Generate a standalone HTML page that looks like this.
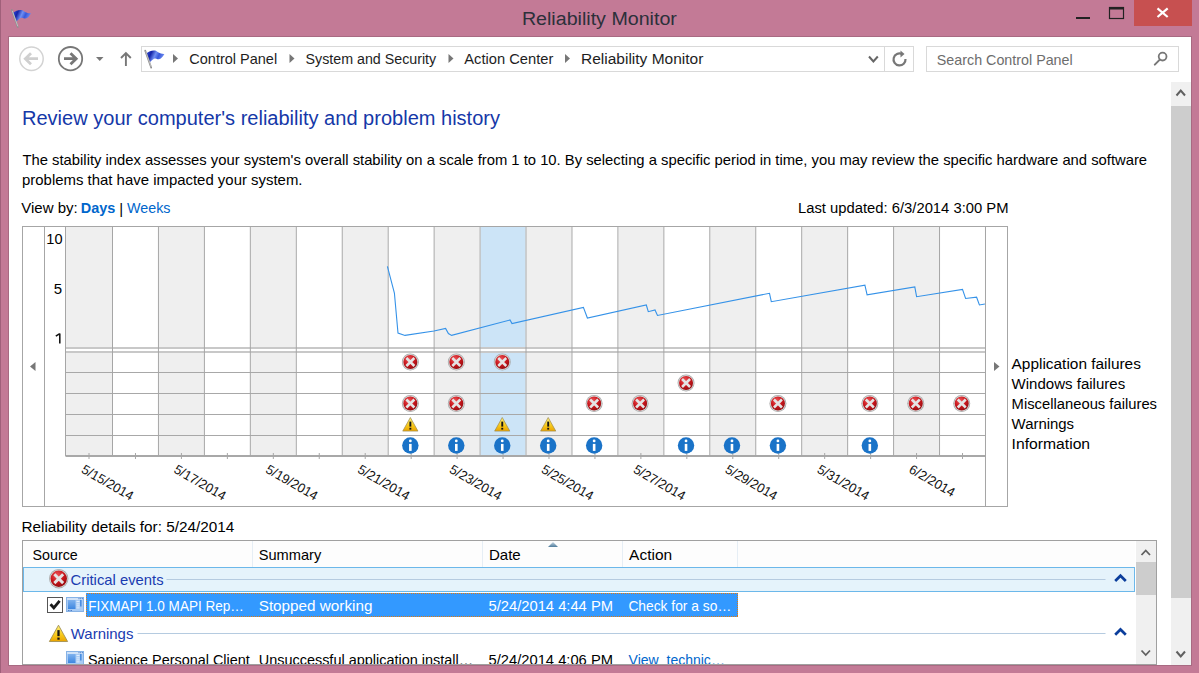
<!DOCTYPE html>
<html><head><meta charset="utf-8"><style>
html,body{margin:0;padding:0;width:1199px;height:673px;overflow:hidden;background:#C37A96;}
svg text{font-family:"Liberation Sans", sans-serif;}
</style></head><body>
<svg width="1199" height="673" viewBox="0 0 1199 673" style="position:absolute;left:0;top:0" font-family='"Liberation Sans", sans-serif'><defs>
<radialGradient id="gerr" cx="0.4" cy="0.3" r="0.75">
<stop offset="0" stop-color="#f0575a"/><stop offset="0.55" stop-color="#c8161c"/><stop offset="1" stop-color="#8e0d10"/>
</radialGradient>
<linearGradient id="gwarn" x1="0" y1="0" x2="0" y2="1">
<stop offset="0" stop-color="#fff27a"/><stop offset="0.6" stop-color="#f7c81a"/><stop offset="1" stop-color="#eaa300"/>
</linearGradient>
<linearGradient id="gflag" x1="0" y1="0" x2="1" y2="0.3">
<stop offset="0" stop-color="#3a55e0"/><stop offset="0.3" stop-color="#1424a8"/><stop offset="0.55" stop-color="#6f8ff2"/><stop offset="0.75" stop-color="#3858da"/><stop offset="1" stop-color="#6a88ee"/>
</linearGradient>
<linearGradient id="gapp" x1="0" y1="0" x2="0" y2="1">
<stop offset="0" stop-color="#7fb2ee"/><stop offset="1" stop-color="#3d86e0"/>
</linearGradient>
<linearGradient id="gsort" x1="0" y1="0" x2="0" y2="1">
<stop offset="0" stop-color="#c5d6e3"/><stop offset="1" stop-color="#4f7c9c"/>
</linearGradient>
</defs><rect x="0" y="0" width="1199" height="673" fill="#C37A96" /><rect x="0" y="0" width="1" height="673" fill="#a0607a" /><rect x="8" y="36" width="1184" height="630" fill="#a86a82" /><rect x="9" y="37" width="1182" height="628" fill="#ffffff" /><g transform="translate(10.6,8) scale(1.0)"><path d="M2.3,4.8 C5,3 8,1.5 11,2 C13.5,2.8 15.5,5.5 20.4,5.3 C18.8,8 17,10.5 14.9,10.6 C13,10.5 11.5,9.8 10.5,9.8 C9,10.5 7,12.5 5.4,13.8 Z" fill="url(#gflag)"/><path d="M1.2,2 L7.2,19" stroke="#8f8f8f" stroke-width="1.7" stroke-linecap="round"/><path d="M1.7,2.8 L7.2,18.3" stroke="#dedede" stroke-width="0.6"/></g><text x="521.9" y="25" font-size="17.6" fill="#2c303a" font-weight="400" text-anchor="start" textLength="155" lengthAdjust="spacingAndGlyphs" >Reliability Monitor</text><rect x="1076" y="17" width="14" height="2" fill="#222" /><rect x="1109.5" y="7.5" width="14" height="11" fill="none" stroke="#222" stroke-width="1.2" /><rect x="1109" y="7" width="15" height="2.5" fill="#222" /><rect x="1134" y="0" width="58" height="26" fill="#c75050" /><path d="M1157.5,8.3 L1167.7,17 M1167.7,8.3 L1157.5,17" stroke="#fff" stroke-width="2.2"/><circle cx="31.5" cy="58.7" r="11.7" fill="none" stroke="#d3d3d3" stroke-width="1.5"/><path d="M25,58.7 L38,58.7 M31,53.2 L25.3,58.7 L31,64.2" fill="none" stroke="#cfcfcf" stroke-width="2.8"/><circle cx="70.5" cy="58.7" r="11.7" fill="none" stroke="#777" stroke-width="1.8"/><path d="M64,58.7 L77,58.7 M70.5,53.2 L76.2,58.7 L70.5,64.2" fill="none" stroke="#777" stroke-width="2.8"/><path d="M96,57 L103.5,57 L99.75,61 Z" fill="#777"/><path d="M125.9,53.5 L125.9,66 M121,58 L125.9,53 L130.8,58" fill="none" stroke="#777" stroke-width="1.9"/><rect x="141.5" y="46.5" width="772" height="25" fill="#fff" stroke="#d9d9d9" stroke-width="1" /><line x1="884.5" y1="47" x2="884.5" y2="71" stroke="#d9d9d9" stroke-width="1"/><g transform="translate(144,48.6) scale(1.0)"><path d="M2.3,4.8 C5,3 8,1.5 11,2 C13.5,2.8 15.5,5.5 20.4,5.3 C18.8,8 17,10.5 14.9,10.6 C13,10.5 11.5,9.8 10.5,9.8 C9,10.5 7,12.5 5.4,13.8 Z" fill="url(#gflag)"/><path d="M1.2,2 L7.2,19" stroke="#8f8f8f" stroke-width="1.7" stroke-linecap="round"/><path d="M1.7,2.8 L7.2,18.3" stroke="#dedede" stroke-width="0.6"/></g><path d="M173,54 L178,58.5 L173,63 Z" fill="#777"/><path d="M289.5,54 L294.5,58.5 L289.5,63 Z" fill="#777"/><path d="M448.5,54 L453.5,58.5 L448.5,63 Z" fill="#777"/><path d="M565,54 L570,58.5 L565,63 Z" fill="#777"/><text x="189.3" y="64" font-size="14.5" fill="#1e1e1e" font-weight="400" text-anchor="start" >Control Panel</text><text x="305.5" y="64" font-size="14.25" fill="#1e1e1e" font-weight="400" text-anchor="start" >System and Security</text><text x="464.3" y="64" font-size="14.7" fill="#1e1e1e" font-weight="400" text-anchor="start" >Action Center</text><text x="581" y="64" font-size="15.5" fill="#1e1e1e" font-weight="400" text-anchor="start" >Reliability Monitor</text><path d="M869,56.5 L873.4,61.5 L877.8,56.5" fill="none" stroke="#666" stroke-width="2"/><path d="M905.5,59 A6,6 0 1 1 902,54" fill="none" stroke="#777" stroke-width="2.2"/><path d="M900.5,50.5 L904.5,54 L900.5,57.5 Z" fill="#777"/><rect x="926.5" y="46.5" width="252" height="25" fill="#fff" stroke="#d9d9d9" stroke-width="1" /><text x="936.8" y="64.5" font-size="14.3" fill="#6d6d6d" font-weight="400" text-anchor="start" >Search Control Panel</text><circle cx="1162.6" cy="56.6" r="3.9" fill="none" stroke="#777" stroke-width="1.8"/><path d="M1159.8,59.6 L1154.8,64.6" stroke="#777" stroke-width="2" stroke-linecap="round"/><rect x="1171" y="82" width="20" height="583" fill="#f0f0f0" /><rect x="1171" y="106" width="20" height="492" fill="#cdcdcd" /><path d="M1176.5,95.5 L1180.75,90.5 L1185,95.5" fill="none" stroke="#606060" stroke-width="2"/><path d="M1176.5,651.5 L1180.75,656.5 L1185,651.5" fill="none" stroke="#606060" stroke-width="2"/><text x="22" y="125" font-size="20" fill="#1538a8" font-weight="400" text-anchor="start" textLength="478" lengthAdjust="spacingAndGlyphs" >Review your computer's reliability and problem history</text><text x="22.5" y="164.5" font-size="14.8" fill="#000" font-weight="400" text-anchor="start" >The stability index assesses your system's overall stability on a scale from 1 to 10. By selecting a specific period in time, you may review the specific hardware and software</text><text x="22" y="184.5" font-size="14.8" fill="#000" font-weight="400" text-anchor="start" textLength="280.5" lengthAdjust="spacingAndGlyphs" >problems that have impacted your system.</text><text x="21.2" y="213" font-size="15" fill="#000" font-weight="400" text-anchor="start" textLength="56.5" lengthAdjust="spacingAndGlyphs" >View by:</text><text x="80.8" y="213" font-size="15" fill="#0066cc" font-weight="700" text-anchor="start" textLength="34.6" lengthAdjust="spacingAndGlyphs" >Days</text><text x="119.3" y="214" font-size="15" fill="#000" font-weight="400" text-anchor="start" >|</text><text x="127" y="213" font-size="15" fill="#0066cc" font-weight="400" text-anchor="start" textLength="43.5" lengthAdjust="spacingAndGlyphs" >Weeks</text><text x="798" y="213" font-size="14.7" fill="#000" font-weight="400" text-anchor="start" textLength="210.5" lengthAdjust="spacingAndGlyphs" >Last updated: 6/3/2014 3:00 PM</text><rect x="22.5" y="226.5" width="985" height="280" fill="#fff" /><rect x="66.0" y="227" width="46.0" height="229" fill="#efefef" /><rect x="113.0" y="227" width="44.947" height="229" fill="#ffffff" /><rect x="158.947" y="227" width="44.947" height="229" fill="#efefef" /><rect x="204.894" y="227" width="44.947" height="229" fill="#ffffff" /><rect x="250.841" y="227" width="44.947" height="229" fill="#efefef" /><rect x="296.788" y="227" width="44.947" height="229" fill="#ffffff" /><rect x="342.735" y="227" width="44.947" height="229" fill="#efefef" /><rect x="388.682" y="227" width="44.947" height="229" fill="#ffffff" /><rect x="434.629" y="227" width="44.947" height="229" fill="#efefef" /><rect x="480.576" y="227" width="44.947" height="229" fill="#cce4f7" /><rect x="526.523" y="227" width="44.947" height="229" fill="#efefef" /><rect x="572.47" y="227" width="44.947" height="229" fill="#ffffff" /><rect x="618.417" y="227" width="44.947" height="229" fill="#efefef" /><rect x="664.364" y="227" width="44.947" height="229" fill="#ffffff" /><rect x="710.311" y="227" width="44.947" height="229" fill="#efefef" /><rect x="756.258" y="227" width="44.947" height="229" fill="#ffffff" /><rect x="802.205" y="227" width="44.947" height="229" fill="#efefef" /><rect x="848.152" y="227" width="44.947" height="229" fill="#ffffff" /><rect x="894.099" y="227" width="44.947" height="229" fill="#efefef" /><rect x="940.046" y="227" width="44.947" height="229" fill="#ffffff" /><line x1="65.5" y1="348" x2="985.5" y2="348" stroke="#c8c8c8" stroke-width="2"/><rect x="66" y="349" width="919" height="2" fill="#ffffff" /><line x1="65.5" y1="352" x2="985.5" y2="352" stroke="#c8c8c8" stroke-width="2"/><line x1="65.5" y1="372.5" x2="985.5" y2="372.5" stroke="#a8a8a8" stroke-width="1"/><line x1="65.5" y1="393.5" x2="985.5" y2="393.5" stroke="#a8a8a8" stroke-width="1"/><line x1="65.5" y1="414.5" x2="985.5" y2="414.5" stroke="#a8a8a8" stroke-width="1"/><line x1="65.5" y1="435.5" x2="985.5" y2="435.5" stroke="#a8a8a8" stroke-width="1"/><line x1="65.5" y1="456" x2="985.5" y2="456" stroke="#a8a8a8" stroke-width="2"/><line x1="65.5" y1="226" x2="65.5" y2="456" stroke="#a6a6a6" stroke-width="1"/><line x1="112.5" y1="226" x2="112.5" y2="456" stroke="#a6a6a6" stroke-width="1"/><line x1="158.447" y1="226" x2="158.447" y2="456" stroke="#a6a6a6" stroke-width="1"/><line x1="204.394" y1="226" x2="204.394" y2="456" stroke="#a6a6a6" stroke-width="1"/><line x1="250.341" y1="226" x2="250.341" y2="456" stroke="#a6a6a6" stroke-width="1"/><line x1="296.288" y1="226" x2="296.288" y2="456" stroke="#a6a6a6" stroke-width="1"/><line x1="342.235" y1="226" x2="342.235" y2="456" stroke="#a6a6a6" stroke-width="1"/><line x1="388.182" y1="226" x2="388.182" y2="456" stroke="#a6a6a6" stroke-width="1"/><line x1="434.129" y1="226" x2="434.129" y2="456" stroke="#a6a6a6" stroke-width="1"/><line x1="480.076" y1="226" x2="480.076" y2="456" stroke="#a6a6a6" stroke-width="1"/><line x1="526.023" y1="226" x2="526.023" y2="456" stroke="#a6a6a6" stroke-width="1"/><line x1="571.97" y1="226" x2="571.97" y2="456" stroke="#a6a6a6" stroke-width="1"/><line x1="617.917" y1="226" x2="617.917" y2="456" stroke="#a6a6a6" stroke-width="1"/><line x1="663.864" y1="226" x2="663.864" y2="456" stroke="#a6a6a6" stroke-width="1"/><line x1="709.811" y1="226" x2="709.811" y2="456" stroke="#a6a6a6" stroke-width="1"/><line x1="755.758" y1="226" x2="755.758" y2="456" stroke="#a6a6a6" stroke-width="1"/><line x1="801.705" y1="226" x2="801.705" y2="456" stroke="#a6a6a6" stroke-width="1"/><line x1="847.652" y1="226" x2="847.652" y2="456" stroke="#a6a6a6" stroke-width="1"/><line x1="893.599" y1="226" x2="893.599" y2="456" stroke="#a6a6a6" stroke-width="1"/><line x1="939.546" y1="226" x2="939.546" y2="456" stroke="#a6a6a6" stroke-width="1"/><line x1="985.493" y1="226" x2="985.493" y2="506" stroke="#a6a6a6" stroke-width="1"/><line x1="44.5" y1="226" x2="44.5" y2="506" stroke="#a6a6a6" stroke-width="1"/><line x1="985.5" y1="226" x2="985.5" y2="506" stroke="#a6a6a6" stroke-width="1"/><rect x="22.5" y="226.5" width="985" height="280" fill="none" stroke="#a6a6a6" stroke-width="1" /><line x1="89.0" y1="453" x2="89.0" y2="459" stroke="#a6a6a6" stroke-width="1"/><line x1="135.4735" y1="453" x2="135.4735" y2="459" stroke="#a6a6a6" stroke-width="1"/><line x1="181.4205" y1="453" x2="181.4205" y2="459" stroke="#a6a6a6" stroke-width="1"/><line x1="227.3675" y1="453" x2="227.3675" y2="459" stroke="#a6a6a6" stroke-width="1"/><line x1="273.3145" y1="453" x2="273.3145" y2="459" stroke="#a6a6a6" stroke-width="1"/><line x1="319.2615" y1="453" x2="319.2615" y2="459" stroke="#a6a6a6" stroke-width="1"/><line x1="365.2085" y1="453" x2="365.2085" y2="459" stroke="#a6a6a6" stroke-width="1"/><line x1="411.1555" y1="453" x2="411.1555" y2="459" stroke="#a6a6a6" stroke-width="1"/><line x1="457.1025" y1="453" x2="457.1025" y2="459" stroke="#a6a6a6" stroke-width="1"/><line x1="503.0495" y1="453" x2="503.0495" y2="459" stroke="#a6a6a6" stroke-width="1"/><line x1="548.9965" y1="453" x2="548.9965" y2="459" stroke="#a6a6a6" stroke-width="1"/><line x1="594.9435000000001" y1="453" x2="594.9435000000001" y2="459" stroke="#a6a6a6" stroke-width="1"/><line x1="640.8905" y1="453" x2="640.8905" y2="459" stroke="#a6a6a6" stroke-width="1"/><line x1="686.8375000000001" y1="453" x2="686.8375000000001" y2="459" stroke="#a6a6a6" stroke-width="1"/><line x1="732.7845" y1="453" x2="732.7845" y2="459" stroke="#a6a6a6" stroke-width="1"/><line x1="778.7315000000001" y1="453" x2="778.7315000000001" y2="459" stroke="#a6a6a6" stroke-width="1"/><line x1="824.6785" y1="453" x2="824.6785" y2="459" stroke="#a6a6a6" stroke-width="1"/><line x1="870.6255000000001" y1="453" x2="870.6255000000001" y2="459" stroke="#a6a6a6" stroke-width="1"/><line x1="916.5725" y1="453" x2="916.5725" y2="459" stroke="#a6a6a6" stroke-width="1"/><line x1="962.5195000000001" y1="453" x2="962.5195000000001" y2="459" stroke="#a6a6a6" stroke-width="1"/><text x="46.3" y="243.5" font-size="15" fill="#000" font-weight="400" text-anchor="start" textLength="16.2" lengthAdjust="spacingAndGlyphs" >10</text><text x="62" y="294" font-size="15" fill="#000" font-weight="400" text-anchor="end" >5</text><path d="M59.8,333.4 L59.8,343.5 M55.8,336.2 L59.8,333.6" fill="none" stroke="#111" stroke-width="1.55"/><path d="M35.5,362 L30,366.5 L35.5,371 Z" fill="#777"/><path d="M994,362 L999.5,366.5 L994,371 Z" fill="#777"/><polyline fill="none" stroke="#3592e8" stroke-width="1.1" points="387.4,266.4 394.4,293 398,333 405,335.4 434,331 445.6,328.4 448.4,333.6 451.6,335.4 510,320 512,323.6 583.4,307.4 587.4,318 646.3,305 648.3,311.7 655,310 657.5,315.5 769.5,293.3 771.3,301.7 864.9,285.1 867.1,294.9 914.8,287 916.6,296.7 962.5,289.4 965.6,298.5 976.6,297.2 979.4,305 984.9,304"/><g transform="translate(410.3555,362)"><circle r="8.5" fill="#a9a9a9"/><circle r="7.7" fill="#dcdcdc"/><circle r="7.0" fill="url(#gerr)"/><path d="M-4.0,-4.0 L4.0,4.0 M4.0,-4.0 L-4.0,4.0" stroke="#e4e4e4" stroke-width="2.55"/></g><g transform="translate(456.3025,362)"><circle r="8.5" fill="#a9a9a9"/><circle r="7.7" fill="#dcdcdc"/><circle r="7.0" fill="url(#gerr)"/><path d="M-4.0,-4.0 L4.0,4.0 M4.0,-4.0 L-4.0,4.0" stroke="#e4e4e4" stroke-width="2.55"/></g><g transform="translate(502.2495,362)"><circle r="8.5" fill="#a9a9a9"/><circle r="7.7" fill="#dcdcdc"/><circle r="7.0" fill="url(#gerr)"/><path d="M-4.0,-4.0 L4.0,4.0 M4.0,-4.0 L-4.0,4.0" stroke="#e4e4e4" stroke-width="2.55"/></g><g transform="translate(686.0375000000001,383)"><circle r="8.5" fill="#a9a9a9"/><circle r="7.7" fill="#dcdcdc"/><circle r="7.0" fill="url(#gerr)"/><path d="M-4.0,-4.0 L4.0,4.0 M4.0,-4.0 L-4.0,4.0" stroke="#e4e4e4" stroke-width="2.55"/></g><g transform="translate(410.3555,403.5)"><circle r="8.5" fill="#a9a9a9"/><circle r="7.7" fill="#dcdcdc"/><circle r="7.0" fill="url(#gerr)"/><path d="M-4.0,-4.0 L4.0,4.0 M4.0,-4.0 L-4.0,4.0" stroke="#e4e4e4" stroke-width="2.55"/></g><g transform="translate(456.3025,403.5)"><circle r="8.5" fill="#a9a9a9"/><circle r="7.7" fill="#dcdcdc"/><circle r="7.0" fill="url(#gerr)"/><path d="M-4.0,-4.0 L4.0,4.0 M4.0,-4.0 L-4.0,4.0" stroke="#e4e4e4" stroke-width="2.55"/></g><g transform="translate(594.1435000000001,403.5)"><circle r="8.5" fill="#a9a9a9"/><circle r="7.7" fill="#dcdcdc"/><circle r="7.0" fill="url(#gerr)"/><path d="M-4.0,-4.0 L4.0,4.0 M4.0,-4.0 L-4.0,4.0" stroke="#e4e4e4" stroke-width="2.55"/></g><g transform="translate(640.0905,403.5)"><circle r="8.5" fill="#a9a9a9"/><circle r="7.7" fill="#dcdcdc"/><circle r="7.0" fill="url(#gerr)"/><path d="M-4.0,-4.0 L4.0,4.0 M4.0,-4.0 L-4.0,4.0" stroke="#e4e4e4" stroke-width="2.55"/></g><g transform="translate(777.9315000000001,403.5)"><circle r="8.5" fill="#a9a9a9"/><circle r="7.7" fill="#dcdcdc"/><circle r="7.0" fill="url(#gerr)"/><path d="M-4.0,-4.0 L4.0,4.0 M4.0,-4.0 L-4.0,4.0" stroke="#e4e4e4" stroke-width="2.55"/></g><g transform="translate(869.8255000000001,403.5)"><circle r="8.5" fill="#a9a9a9"/><circle r="7.7" fill="#dcdcdc"/><circle r="7.0" fill="url(#gerr)"/><path d="M-4.0,-4.0 L4.0,4.0 M4.0,-4.0 L-4.0,4.0" stroke="#e4e4e4" stroke-width="2.55"/></g><g transform="translate(915.7725,403.5)"><circle r="8.5" fill="#a9a9a9"/><circle r="7.7" fill="#dcdcdc"/><circle r="7.0" fill="url(#gerr)"/><path d="M-4.0,-4.0 L4.0,4.0 M4.0,-4.0 L-4.0,4.0" stroke="#e4e4e4" stroke-width="2.55"/></g><g transform="translate(961.7195000000002,403.5)"><circle r="8.5" fill="#a9a9a9"/><circle r="7.7" fill="#dcdcdc"/><circle r="7.0" fill="url(#gerr)"/><path d="M-4.0,-4.0 L4.0,4.0 M4.0,-4.0 L-4.0,4.0" stroke="#e4e4e4" stroke-width="2.55"/></g><g transform="translate(410.3555,424.5) scale(1.0)"><path d="M0,-7 L7.6,6.6 L-7.6,6.6 Z" fill="url(#gwarn)" stroke="#9c8a50" stroke-width="0.7" stroke-linejoin="round"/><path d="M0,-2.9 L0,2.1" stroke="#151515" stroke-width="1.9"/><rect x="-0.95" y="3.3" width="1.9" height="1.8" fill="#151515"/></g><g transform="translate(502.2495,424.5) scale(1.0)"><path d="M0,-7 L7.6,6.6 L-7.6,6.6 Z" fill="url(#gwarn)" stroke="#9c8a50" stroke-width="0.7" stroke-linejoin="round"/><path d="M0,-2.9 L0,2.1" stroke="#151515" stroke-width="1.9"/><rect x="-0.95" y="3.3" width="1.9" height="1.8" fill="#151515"/></g><g transform="translate(548.1965,424.5) scale(1.0)"><path d="M0,-7 L7.6,6.6 L-7.6,6.6 Z" fill="url(#gwarn)" stroke="#9c8a50" stroke-width="0.7" stroke-linejoin="round"/><path d="M0,-2.9 L0,2.1" stroke="#151515" stroke-width="1.9"/><rect x="-0.95" y="3.3" width="1.9" height="1.8" fill="#151515"/></g><g transform="translate(410.3555,445.5)"><circle r="8.2" fill="#1a73c8"/><rect x="-1.3" y="-1.6" width="2.6" height="7" fill="#fff"/><circle cy="-4.6" r="1.4" fill="#fff"/></g><g transform="translate(456.3025,445.5)"><circle r="8.2" fill="#1a73c8"/><rect x="-1.3" y="-1.6" width="2.6" height="7" fill="#fff"/><circle cy="-4.6" r="1.4" fill="#fff"/></g><g transform="translate(502.2495,445.5)"><circle r="8.2" fill="#1a73c8"/><rect x="-1.3" y="-1.6" width="2.6" height="7" fill="#fff"/><circle cy="-4.6" r="1.4" fill="#fff"/></g><g transform="translate(548.1965,445.5)"><circle r="8.2" fill="#1a73c8"/><rect x="-1.3" y="-1.6" width="2.6" height="7" fill="#fff"/><circle cy="-4.6" r="1.4" fill="#fff"/></g><g transform="translate(594.1435000000001,445.5)"><circle r="8.2" fill="#1a73c8"/><rect x="-1.3" y="-1.6" width="2.6" height="7" fill="#fff"/><circle cy="-4.6" r="1.4" fill="#fff"/></g><g transform="translate(686.0375000000001,445.5)"><circle r="8.2" fill="#1a73c8"/><rect x="-1.3" y="-1.6" width="2.6" height="7" fill="#fff"/><circle cy="-4.6" r="1.4" fill="#fff"/></g><g transform="translate(731.9845,445.5)"><circle r="8.2" fill="#1a73c8"/><rect x="-1.3" y="-1.6" width="2.6" height="7" fill="#fff"/><circle cy="-4.6" r="1.4" fill="#fff"/></g><g transform="translate(777.9315000000001,445.5)"><circle r="8.2" fill="#1a73c8"/><rect x="-1.3" y="-1.6" width="2.6" height="7" fill="#fff"/><circle cy="-4.6" r="1.4" fill="#fff"/></g><g transform="translate(869.8255000000001,445.5)"><circle r="8.2" fill="#1a73c8"/><rect x="-1.3" y="-1.6" width="2.6" height="7" fill="#fff"/><circle cy="-4.6" r="1.4" fill="#fff"/></g><text x="1011.6" y="368.5" font-size="15.2" fill="#000" font-weight="400" text-anchor="start" textLength="129.3" lengthAdjust="spacingAndGlyphs" >Application failures</text><text x="1011.6" y="388.5" font-size="15.2" fill="#000" font-weight="400" text-anchor="start" textLength="113.6" lengthAdjust="spacingAndGlyphs" >Windows failures</text><text x="1011.6" y="408.5" font-size="15.2" fill="#000" font-weight="400" text-anchor="start" textLength="145.4" lengthAdjust="spacingAndGlyphs" >Miscellaneous failures</text><text x="1011.6" y="428.5" font-size="15.2" fill="#000" font-weight="400" text-anchor="start" textLength="62.5" lengthAdjust="spacingAndGlyphs" >Warnings</text><text x="1011.6" y="448.5" font-size="15.2" fill="#000" font-weight="400" text-anchor="start" textLength="78.5" lengthAdjust="spacingAndGlyphs" >Information</text><text x="80.5" y="472" font-size="13.2" fill="#111" textLength="57.5" lengthAdjust="spacingAndGlyphs" transform="rotate(30 80.5 472)">5/15/2014</text><text x="172.9" y="472" font-size="13.2" fill="#111" textLength="57.5" lengthAdjust="spacingAndGlyphs" transform="rotate(30 172.9 472)">5/17/2014</text><text x="264.8" y="472" font-size="13.2" fill="#111" textLength="57.5" lengthAdjust="spacingAndGlyphs" transform="rotate(30 264.8 472)">5/19/2014</text><text x="356.7" y="472" font-size="13.2" fill="#111" textLength="57.5" lengthAdjust="spacingAndGlyphs" transform="rotate(30 356.7 472)">5/21/2014</text><text x="448.6" y="472" font-size="13.2" fill="#111" textLength="57.5" lengthAdjust="spacingAndGlyphs" transform="rotate(30 448.6 472)">5/23/2014</text><text x="540.5" y="472" font-size="13.2" fill="#111" textLength="57.5" lengthAdjust="spacingAndGlyphs" transform="rotate(30 540.5 472)">5/25/2014</text><text x="632.4" y="472" font-size="13.2" fill="#111" textLength="57.5" lengthAdjust="spacingAndGlyphs" transform="rotate(30 632.4 472)">5/27/2014</text><text x="724.3" y="472" font-size="13.2" fill="#111" textLength="57.5" lengthAdjust="spacingAndGlyphs" transform="rotate(30 724.3 472)">5/29/2014</text><text x="816.2" y="472" font-size="13.2" fill="#111" textLength="57.5" lengthAdjust="spacingAndGlyphs" transform="rotate(30 816.2 472)">5/31/2014</text><text x="908.1" y="472" font-size="13.2" fill="#111" textLength="50.5" lengthAdjust="spacingAndGlyphs" transform="rotate(30 908.1 472)">6/2/2014</text><text x="21.4" y="532" font-size="15.2" fill="#000" font-weight="400" text-anchor="start" textLength="213" lengthAdjust="spacingAndGlyphs" >Reliability details for: 5/24/2014</text><rect x="22.5" y="540.5" width="1134" height="130" fill="#fff" stroke="#a0a0a0" stroke-width="1" /><rect x="23" y="541" width="1112" height="26" fill="#fdfdfd" /><line x1="252.5" y1="541" x2="252.5" y2="567" stroke="#e6eef5" stroke-width="1"/><line x1="482.5" y1="541" x2="482.5" y2="567" stroke="#e6eef5" stroke-width="1"/><line x1="622.5" y1="541" x2="622.5" y2="567" stroke="#e6eef5" stroke-width="1"/><line x1="737.5" y1="541" x2="737.5" y2="567" stroke="#e6eef5" stroke-width="1"/><text x="32.6" y="560" font-size="15" fill="#000" font-weight="400" text-anchor="start" textLength="45.2" lengthAdjust="spacingAndGlyphs" >Source</text><text x="258.7" y="560" font-size="15" fill="#000" font-weight="400" text-anchor="start" textLength="62.6" lengthAdjust="spacingAndGlyphs" >Summary</text><text x="488.9" y="560" font-size="15" fill="#000" font-weight="400" text-anchor="start" textLength="31.8" lengthAdjust="spacingAndGlyphs" >Date</text><text x="629.1" y="560" font-size="15" fill="#000" font-weight="400" text-anchor="start" textLength="43" lengthAdjust="spacingAndGlyphs" >Action</text><path d="M548,547 L553,542 L558,547 Z" fill="url(#gsort)"/><rect x="23.5" y="567.5" width="1111" height="24" fill="#e5f3fb" stroke="#6cb8ea" stroke-width="1" /><g transform="translate(58.75,578.7)"><circle r="9.7" fill="#a9a9a9"/><circle r="8.899999999999999" fill="#dcdcdc"/><circle r="8.2" fill="url(#gerr)"/><path d="M-4.4,-4.4 L4.4,4.4 M4.4,-4.4 L-4.4,4.4" stroke="#e4e4e4" stroke-width="2.91"/></g><text x="70.6" y="584.5" font-size="15" fill="#1a3bb0" font-weight="400" text-anchor="start" textLength="93" lengthAdjust="spacingAndGlyphs" >Critical events</text><line x1="166.5" y1="579.5" x2="1105.5" y2="579.5" stroke="#b5cbe0" stroke-width="1"/><path d="M1115.2,581 L1120.5,575.7 L1125.8,581" fill="none" stroke="#0b3e9c" stroke-width="2.7"/><rect x="86" y="593" width="652" height="24" fill="#3399ff" /><rect x="86.5" y="593.5" width="651" height="23" fill="none" stroke="#e07a10" stroke-width="1" stroke-dasharray="1 1" shape-rendering="crispEdges"/><rect x="47.5" y="597.5" width="15" height="15" fill="#fff" stroke="#555" stroke-width="1" /><path d="M50.5,604.3 L53.8,607.8 L59.6,600.8" fill="none" stroke="#1a1a1a" stroke-width="2.8"/><g transform="translate(66,597)"><rect x="0.5" y="0.5" width="17" height="14" fill="#a8cbf4" stroke="#86b2e6" stroke-width="1"/><rect x="1" y="1" width="16" height="2" fill="#cfe2f8"/><rect x="12.5" y="1.2" width="1" height="1" fill="#3a6fc0"/><rect x="14.2" y="1.2" width="1" height="1" fill="#3a6fc0"/><rect x="15.9" y="1.2" width="1" height="1" fill="#3a6fc0"/><rect x="2" y="3" width="7.5" height="9" fill="url(#gapp)"/><rect x="10.5" y="4" width="3" height="0.8" fill="#eef5ff"/><rect x="10.5" y="6.5" width="3" height="0.8" fill="#eef5ff"/><rect x="10.5" y="8.5" width="3" height="0.8" fill="#eef5ff"/><rect x="10.5" y="10.5" width="3" height="0.8" fill="#eef5ff"/><rect x="14" y="3" width="1.6" height="6.5" fill="#4a8ee0"/><rect x="2" y="13" width="1.5" height="0.8" fill="#3a6fc0"/><rect x="4.5" y="13" width="1.5" height="0.8" fill="#3a6fc0"/></g><text x="88.2" y="610.8" font-size="15" fill="#fff" font-weight="400" text-anchor="start" textLength="155.6" lengthAdjust="spacingAndGlyphs" >FIXMAPI 1.0 MAPI Rep…</text><text x="258.7" y="610.8" font-size="15" fill="#fff" font-weight="400" text-anchor="start" textLength="113.8" lengthAdjust="spacingAndGlyphs" >Stopped working</text><text x="488.5" y="610.8" font-size="15" fill="#fff" font-weight="400" text-anchor="start" textLength="124.5" lengthAdjust="spacingAndGlyphs" >5/24/2014 4:44 PM</text><text x="628.4" y="610.8" font-size="15" fill="#fff" font-weight="400" text-anchor="start" textLength="102.8" lengthAdjust="spacingAndGlyphs" >Check for a so…</text><g transform="translate(58.5,633.6) scale(1.2)"><path d="M0,-7 L7.6,6.6 L-7.6,6.6 Z" fill="url(#gwarn)" stroke="#9c8a50" stroke-width="0.7" stroke-linejoin="round"/><path d="M0,-2.9 L0,2.1" stroke="#151515" stroke-width="1.9"/><rect x="-0.95" y="3.3" width="1.9" height="1.8" fill="#151515"/></g><text x="70.8" y="638.5" font-size="15" fill="#1a3bb0" font-weight="400" text-anchor="start" textLength="62.6" lengthAdjust="spacingAndGlyphs" >Warnings</text><line x1="137.5" y1="633.5" x2="1105.5" y2="633.5" stroke="#b5cbe0" stroke-width="1"/><path d="M1115.2,634.8 L1120.5,629.5 L1125.8,634.8" fill="none" stroke="#0b3e9c" stroke-width="2.7"/><g transform="translate(66,651)"><rect x="0.5" y="0.5" width="17" height="14" fill="#a8cbf4" stroke="#86b2e6" stroke-width="1"/><rect x="1" y="1" width="16" height="2" fill="#cfe2f8"/><rect x="12.5" y="1.2" width="1" height="1" fill="#3a6fc0"/><rect x="14.2" y="1.2" width="1" height="1" fill="#3a6fc0"/><rect x="15.9" y="1.2" width="1" height="1" fill="#3a6fc0"/><rect x="2" y="3" width="7.5" height="9" fill="url(#gapp)"/><rect x="10.5" y="4" width="3" height="0.8" fill="#eef5ff"/><rect x="10.5" y="6.5" width="3" height="0.8" fill="#eef5ff"/><rect x="10.5" y="8.5" width="3" height="0.8" fill="#eef5ff"/><rect x="10.5" y="10.5" width="3" height="0.8" fill="#eef5ff"/><rect x="14" y="3" width="1.6" height="6.5" fill="#4a8ee0"/><rect x="2" y="13" width="1.5" height="0.8" fill="#3a6fc0"/><rect x="4.5" y="13" width="1.5" height="0.8" fill="#3a6fc0"/></g><text x="88" y="665" font-size="15" fill="#000" font-weight="400" text-anchor="start" textLength="161.8" lengthAdjust="spacingAndGlyphs" >Sapience Personal Client</text><text x="258.7" y="665" font-size="15" fill="#000" font-weight="400" text-anchor="start" textLength="214.5" lengthAdjust="spacingAndGlyphs" >Unsuccessful application install…</text><text x="488.5" y="665" font-size="15" fill="#000" font-weight="400" text-anchor="start" textLength="124.5" lengthAdjust="spacingAndGlyphs" >5/24/2014 4:06 PM</text><text x="628.6" y="665" font-size="15" fill="#0066cc" font-weight="400" text-anchor="start" textLength="96.3" lengthAdjust="spacingAndGlyphs" >View&#160; technic…</text><rect x="1136" y="541" width="20" height="123" fill="#f0f0f0" /><rect x="1136" y="562" width="20" height="33" fill="#cdcdcd" /><path d="M1141.5,555 L1145.75,550.5 L1150,555" fill="none" stroke="#606060" stroke-width="1.8"/><path d="M1141.5,650.5 L1145.75,655 L1150,650.5" fill="none" stroke="#606060" stroke-width="1.8"/><rect x="22.5" y="540.5" width="1134" height="124" fill="none" stroke="#a0a0a0" stroke-width="1" /><rect x="9" y="665" width="1182" height="1" fill="#a86a82" /><rect x="0" y="666" width="1199" height="7" fill="#C37A96" /><rect x="0" y="666" width="1" height="7" fill="#a0607a" /></svg>
</body></html>
